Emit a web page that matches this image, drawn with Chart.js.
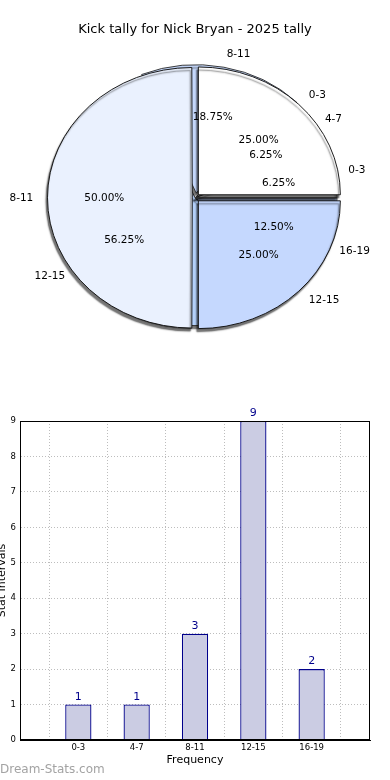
<!DOCTYPE html>
<html>
<head>
<meta charset="utf-8">
<script src="https://cdn.jsdelivr.net/npm/chart.js@4.4.1/dist/chart.umd.min.js"></script>
<style>
    body { margin: 0; background: #fff; font-family: "DejaVu Sans", sans-serif; }
    #page { position: relative; width: 390px; height: 780px; overflow: hidden; }
    #pieBox { position: absolute; left: 0; top: 0; width: 390px; height: 400px; }
    #barBox { position: absolute; left: 0; top: 400px; width: 390px; height: 380px; }
    #brand { position: absolute; left: 0; top: 762px; font-size: 12px; color: #a3a3a3; }
</style>
</head>
<body>
<div id="page">
    <div id="pieBox"><canvas id="pieChart" width="390" height="400"></canvas></div>
    <div id="barBox"><canvas id="barChart" width="390" height="380"></canvas></div>
    <div id="brand">Dream-Stats.com</div>
</div>
<script>
const chartTitle = 'Kick tally for Nick Bryan - 2025 tally';

// tally per interval (bar chart + inner pie)
const categories = ['0-3', '4-7', '8-11', '12-15', '16-19'];
const kickCounts = [1, 1, 3, 9, 2];

// second pie laid over the first one
const overlayLabels = ['0-3', '8-11', '12-15'];
const overlayValues = [25, 50, 25];

const yTicks = [0, 1, 2, 3, 4, 5, 6, 7, 8, 9];
const xTitle = 'Frequency';
const yTitle = 'Stat Intervals';

const squash = 0.9; // the pie is a bit flattened in the original
const pieRadius = 142;

// matplotlib goes counter clockwise from 3 o'clock, chart.js clockwise -> reverse
const rev = arr => arr.slice().reverse();

const pieLayers = {
    id: 'pieLayers',
    beforeDatasetsDraw(chart) {
        const ctx = chart.ctx;
        let cx = 0, cy = 0;
        chart.data.datasets.forEach((ds, i) => {
            chart.getDatasetMeta(i).data.forEach(arc => {
                arc.innerRadius = 0;
                arc.outerRadius = pieRadius;
                cx = arc.x; cy = arc.y;
            });
        });
        ctx.save();
        ctx.translate(cx, cy);
        ctx.scale(1, squash);
        ctx.translate(-cx, -cy);
        ctx.shadowColor = 'rgba(0,0,0,0.55)';
        ctx.shadowOffsetX = -1.5;
        ctx.shadowOffsetY = 3;
        ctx.shadowBlur = 1.5;
    },
    afterDatasetsDraw(chart) {
        const ctx = chart.ctx;
        ctx.restore();
        ctx.save();
        ctx.fillStyle = '#000';
        ctx.font = '10.5px "DejaVu Sans"';
        ctx.textBaseline = 'middle';
        chart.data.datasets.forEach((ds, i) => {
            const total = ds.data.reduce((a, b) => a + b, 0);
            chart.getDatasetMeta(i).data.forEach((arc, j) => {
                const mid = (arc.startAngle + arc.endAngle) / 2;
                const circ = arc.endAngle - arc.startAngle;
                const fix = 1 - Math.sin(Math.min(Math.PI, circ));
                const shift = (arc.options.offset || 0) / 4 * (1 + fix);
                const cos = Math.cos(mid), sin = Math.sin(mid);

                let r = shift + 1.1 * arc.outerRadius;
                ctx.textAlign = cos > 0 ? 'left' : 'right';
                ctx.fillText(ds.sliceLabels[j], arc.x + cos * r, arc.y + sin * r * squash);

                r = shift + 0.6 * arc.outerRadius;
                ctx.textAlign = 'center';
                const pct = (ds.data[j] / total * 100).toFixed(2) + '%';
                ctx.fillText(pct, arc.x + cos * r, arc.y + sin * r * squash);
            });
        });
        ctx.restore();
    }
};

const pieChart = new Chart(document.getElementById('pieChart'), {
    type: 'pie',
    data: {
        datasets: [{
            // drawn last -> on top
            data: rev(overlayValues),
            sliceLabels: rev(overlayLabels),
            backgroundColor: rev(['#ffffff', '#eaf1fe', '#c5d8fe']),
            offset: rev([19, 11, 19]),
            borderColor: '#111',
            borderWidth: 1,
            clip: false
        }, {
            data: rev(kickCounts),
            sliceLabels: rev(categories),
            backgroundColor: rev(['#ffffff', '#f4f4f4', '#c6d9fd', '#b5d2fc', '#c5d8fe']),
            offset: rev([0, 0, 22, 0, 0]),
            borderColor: '#333',
            borderWidth: 1,
            clip: false
        }]
    },
    options: {
        responsive: false,
        animation: false,
        rotation: 90,
        layout: { padding: { bottom: 49 } },
        plugins: {
            legend: { display: false },
            tooltip: { enabled: false },
            title: {
                display: true,
                text: chartTitle,
                color: '#000',
                font: { family: 'DejaVu Sans', size: 13, weight: 'normal' },
                padding: { top: 22, bottom: 7 }
            }
        }
    },
    plugins: [pieLayers]
});

const barLabels = {
    id: 'barLabels',
    afterDatasetsDraw(chart) {
        const ctx = chart.ctx;
        ctx.save();
        ctx.fillStyle = '#00008b';
        ctx.font = '11px "DejaVu Sans"';
        ctx.textAlign = 'center';
        ctx.textBaseline = 'bottom';
        chart.getDatasetMeta(0).data.forEach((bar, i) => {
            const v = chart.data.datasets[0].data[i];
            if (v == null) return;
            ctx.fillText(String(v), bar.x, bar.y - 2);
        });
        ctx.restore();
    },
    afterDraw(chart) {
        const ctx = chart.ctx;
        const a = chart.chartArea;
        ctx.save();
        ctx.strokeStyle = '#000';
        ctx.lineWidth = 1;
        ctx.strokeRect(Math.round(a.left) + 0.5, Math.round(a.top) + 0.5,
            Math.round(a.right - a.left) - 1, Math.round(a.bottom - a.top) - 1);
        ctx.restore();
    }
};

// empty slot at each end, like the original axis range
const barCats = [''].concat(categories, ['']);
const barValues = [null].concat(kickCounts, [null]);

const barChart = new Chart(document.getElementById('barChart'), {
    type: 'bar',
    data: {
        labels: barCats,
        datasets: [{
            data: barValues,
            backgroundColor: '#cbcce3',
            borderColor: '#00008b',
            borderWidth: 1.3,
            categoryPercentage: 1,
            barPercentage: 0.45
        }]
    },
    options: {
        responsive: false,
        animation: false,
        layout: { padding: { top: 21, right: 20 } },
        plugins: { legend: { display: false }, tooltip: { enabled: false } },
        scales: {
            x: {
                offset: false,
                z: 1,
                grid: { color: '#bdbdbd', drawTicks: false },
                border: { color: '#000', dash: [1, 2] },
                ticks: {
                    color: '#000', padding: 3, autoSkip: false, maxRotation: 0,
                    font: { family: 'DejaVu Sans', size: 8.5 }
                },
                title: {
                    display: true, text: xTitle, color: '#000',
                    font: { family: 'DejaVu Sans', size: 11 },
                    padding: { top: 0, bottom: 13 }
                },
                afterFit(scale) { scale.height = 40; }
            },
            y: {
                min: yTicks[0],
                max: yTicks[yTicks.length - 1],
                z: 1,
                grid: { color: '#bdbdbd', drawTicks: false },
                border: { color: '#000', dash: [1, 2] },
                afterBuildTicks(scale) { scale.ticks = yTicks.map(v => ({ value: v })); },
                ticks: {
                    color: '#000', padding: 4,
                    font: { family: 'DejaVu Sans', size: 8.5 }
                },
                title: {
                    display: true, text: yTitle, color: '#000',
                    font: { family: 'DejaVu Sans', size: 11 },
                    padding: { top: -4, bottom: 0 }
                },
                afterFit(scale) { scale.width = 20; }
            }
        }
    },
    plugins: [barLabels]
});
</script>
</body>
</html>
